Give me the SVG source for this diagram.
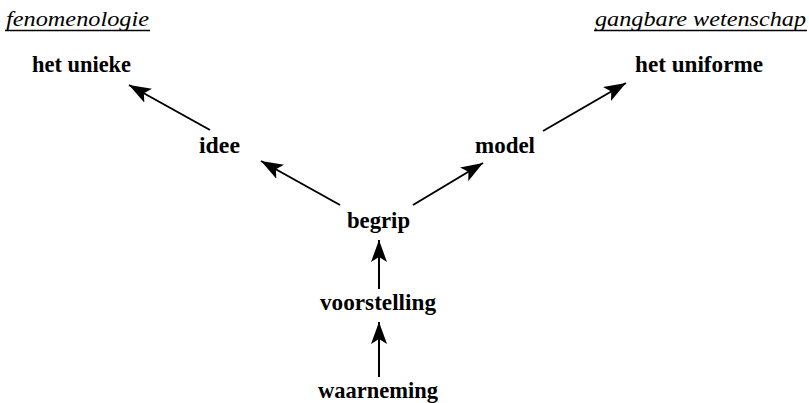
<svg xmlns="http://www.w3.org/2000/svg" width="809" height="403" viewBox="0 0 809 403">
  <style>
    .lbl { font-family: "Liberation Serif", "Times New Roman", serif; font-weight: bold; font-size: 22.5px; fill: #000; }
    .uline { stroke: #000; stroke-width: 1.6; }
    .arr { stroke: #000; stroke-width: 2; fill: none; marker-end: url(#tip); }
  </style>
  <defs>
    <marker id="tip" markerUnits="userSpaceOnUse" markerWidth="24" markerHeight="16" refX="22" refY="8" orient="auto">
      <path d="M0,0 L22,8 L0,16 L5,8 Z" fill="#000"/>
    </marker>
  </defs>
  <rect width="809" height="403" fill="#fff"/>

  <!-- italic serif headings with underline -->
  <g id="heading-left">
    <text x="6" y="26" font-family="'Liberation Serif', serif" font-style="italic" font-size="22" textLength="143" lengthAdjust="spacingAndGlyphs">fenomenologie</text>
    <line class="uline" x1="5" y1="30.5" x2="150" y2="30.5"/>
  </g>
  <g id="heading-right">
    <text x="595" y="26" font-family="'Liberation Serif', serif" font-style="italic" font-size="22" textLength="211" lengthAdjust="spacingAndGlyphs">gangbare wetenschap</text>
    <line class="uline" x1="594" y1="30.5" x2="807" y2="30.5"/>
  </g>

  <g id="het-unieke"><text class="lbl" x="32" y="72" textLength="99" lengthAdjust="spacingAndGlyphs">het unieke</text></g>
  <g id="het-uniforme"><text class="lbl" x="635" y="72" textLength="128" lengthAdjust="spacingAndGlyphs">het uniforme</text></g>
  <g id="idee"><text class="lbl" x="199" y="153" textLength="41" lengthAdjust="spacingAndGlyphs">idee</text></g>
  <g id="model"><text class="lbl" x="475" y="153" textLength="60" lengthAdjust="spacingAndGlyphs">model</text></g>
  <g id="begrip"><text class="lbl" x="347" y="228" textLength="63" lengthAdjust="spacingAndGlyphs">begrip</text></g>
  <g id="voorstelling"><text class="lbl" x="320" y="310" textLength="116" lengthAdjust="spacingAndGlyphs">voorstelling</text></g>
  <g id="waarneming"><text class="lbl" x="318" y="398" textLength="120" lengthAdjust="spacingAndGlyphs">waarneming</text></g>

  <g id="connectors">
    <line class="arr" x1="210" y1="130" x2="129" y2="85"/>
    <line class="arr" x1="340" y1="205" x2="261" y2="161"/>
    <line class="arr" x1="413" y1="205" x2="483" y2="163"/>
    <line class="arr" x1="543" y1="131" x2="626" y2="83"/>
    <line class="arr" x1="379" y1="289" x2="379" y2="240"/>
    <line class="arr" x1="379" y1="377" x2="379" y2="322"/>
  </g>
</svg>
